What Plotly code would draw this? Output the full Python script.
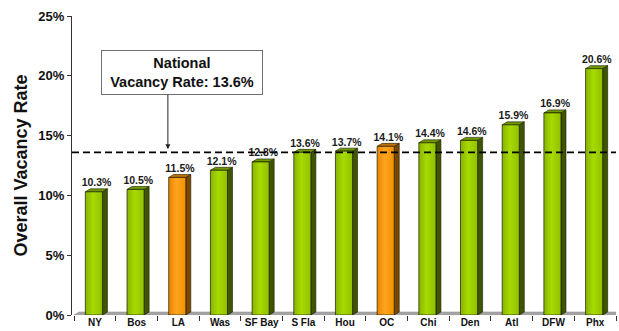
import plotly.graph_objects as go

markets = ["NY", "Bos", "LA", "Was", "SF Bay", "S Fla", "Hou", "OC", "Chi", "Den", "Atl", "DFW", "Phx"]
vacancy = [10.3, 10.5, 11.5, 12.1, 12.8, 13.6, 13.7, 14.1, 14.4, 14.6, 15.9, 16.9, 20.6]
highlight = ["LA", "OC"]
national_rate = 13.6
y_ticks = [0, 5, 10, 15, 20, 25]

FONT = "Arial, Liberation Sans, sans-serif"
green = dict(front=["#86B400", "#A8DA00", "#8FC000"], side="#3F5600", top="#6E9A00")
orange = dict(front=["#E88400", "#FFA41F", "#F39000"], side="#7A4800", top="#C07000")

L, R, DX, DY = -0.23, 0.18, 0.12, 0.25

fig = go.Figure()

# floor
fig.add_trace(go.Scatter(
    x=[-0.5, 12.5, 12.5 + DX, -0.5 + DX, -0.5], y=[0, 0, DY, DY, 0],
    fill="toself", fillcolor="#A8A8A8", mode="lines", line=dict(color="#808080", width=0.5),
    hoverinfo="skip", showlegend=False))

for i, (m, v) in enumerate(zip(markets, vacancy)):
    c = orange if m in highlight else green
    fig.add_trace(go.Scatter(
        x=[i + R, i + R + DX, i + R + DX, i + R, i + R],
        y=[0, DY, v + DY, v, 0],
        fill="toself", fillcolor=c["side"], mode="lines",
        line=dict(color="#1a1a00", width=0.6), hoverinfo="skip", showlegend=False))
    fig.add_trace(go.Scatter(
        x=[i + L, i + R, i + R + DX, i + L + DX, i + L],
        y=[v, v, v + DY, v + DY, v],
        fill="toself", fillcolor=c["top"], mode="lines",
        line=dict(color="#1a1a00", width=0.6), hoverinfo="skip", showlegend=False))
    fig.add_trace(go.Scatter(
        x=[i + L, i + R, i + R, i + L, i + L],
        y=[0, 0, v, v, 0],
        fill="toself",
        fillgradient=dict(type="horizontal",
                          colorscale=[[0, c["front"][0]], [0.45, c["front"][1]], [1, c["front"][2]]]),
        mode="lines", line=dict(color="#1a1a00", width=0.7),
        hoverinfo="skip", showlegend=False))

fig.add_trace(go.Scatter(
    x=[i + 0.04 for i in range(len(markets))], y=[v + DY for v in vacancy],
    mode="text", text=[f"{v:.1f}%" for v in vacancy], textposition="top center",
    textfont=dict(family=FONT, size=10.5, color="#1a1a1a", weight="bold"),
    hoverinfo="skip", showlegend=False))

fig.add_trace(go.Scatter(
    x=[-0.55, 12.6], y=[national_rate, national_rate], mode="lines",
    line=dict(color="black", width=1.6, dash="7px,4px"), hoverinfo="skip",
    showlegend=False, cliponaxis=False))

fig.add_annotation(
    x=2.09, y=20.3, xref="x", yref="y",
    text=f"National<br>Vacancy Rate: {national_rate}%", showarrow=False,
    font=dict(family=FONT, size=14.5, color="#111111", weight="bold"),
    bordercolor="#707070", borderwidth=1, bgcolor="white", borderpad=2,
    width=156, height=39, align="center")
fig.add_annotation(
    x=1.75, y=national_rate + 0.25, xref="x", yref="y", text=" ", showarrow=True,
    ax=0, ay=-63, arrowhead=2, arrowsize=1, arrowwidth=1, arrowcolor="#222222")

fig.update_layout(
    width=619, height=331, margin=dict(l=72, r=3, t=16, b=16),
    paper_bgcolor="white", plot_bgcolor="white",
    font=dict(family=FONT),
    xaxis=dict(range=[-0.55, 12.5], tickvals=list(range(len(markets))), ticktext=markets,
               ticks="", showgrid=False, zeroline=False,
               tickfont=dict(family=FONT, size=10, color="#111111", weight="bold"),
               minor=dict(tickvals=[i + 0.5 for i in range(-1, len(markets))], ticks="outside",
                          ticklen=5, tickcolor="#333333"),
               showline=False),
    yaxis=dict(range=[0, 25], tickvals=y_ticks, ticktext=[f"{t}%" for t in y_ticks],
               ticks="outside", ticklen=4, tickcolor="#333333", showgrid=False, zeroline=False,
               showline=True, linecolor="#333333", linewidth=1,
               tickfont=dict(family=FONT, size=13, color="#111111", weight="bold"),
               title=dict(text="Overall Vacancy Rate", standoff=6,
                          font=dict(family=FONT, size=18, color="#111111", weight="bold"))),
)

fig.write_html("out.html")
